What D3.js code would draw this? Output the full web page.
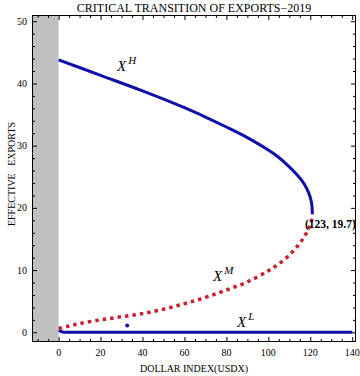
<!DOCTYPE html>
<html><head><meta charset="utf-8">
<script src="https://cdn.jsdelivr.net/npm/d3@7"></script>
<style>body{margin:0;background:#fff}svg{display:block}text{font-family:"Liberation Serif","Times New Roman",serif}</style>
</head><body><svg id="c" width="360" height="376"></svg>
<script>
const xH = [0, 20, 40, 60, 70, 80, 90, 100, 105, 110, 114, 117, 119, 120.3, 120.8, 121];
const yH = [43.8, 41.3, 38.8, 36.1, 34.6, 33.0, 31.3, 29.3, 28.1, 26.6, 25.2, 23.9, 22.6, 21.3, 20.3, 19.0];
const xM = [0, 5, 10, 20, 30, 40, 50, 60, 70, 80, 90, 100, 105, 110, 114, 117, 119, 120.5, 121];
const yM = [0.6, 1.0, 1.4, 2.0, 2.5, 3.0, 3.7, 4.6, 5.6, 6.8, 8.1, 9.9, 11.0, 12.4, 13.9, 15.3, 16.5, 17.8, 19.0];
const xL = [0, 1, 2, 3, 140];
const yL = [0.3, 0.15, 0.05, 0, 0];
const dotPt = [32.7, 1.1];
const xTicks = [0, 20, 40, 60, 80, 100, 120, 140];
const yTicks = [0, 10, 20, 30, 40, 50];
const bifLabel = "(123, 19.7)";
const title = "CRITICAL TRANSITION OF EXPORTS\u22122019";
const xTitle = "DOLLAR INDEX(USDX)";
const yTitle = "EFFECTIVE\u00a0\u00a0\u00a0EXPORTS";

const W=360,H=376, m={l:32,r:4,t:15,b:34};
const svg=d3.select("#c");
const x=d3.scaleLinear().domain([-12.7,141.8]).range([m.l,W-m.r]);
const y=d3.scaleLinear().domain([-1.56,51.0]).range([H-m.b,m.t]);

// gray band
svg.append("rect").attr("x",x(-12.7)).attr("y",m.t).attr("width",x(0)-x(-12.7)).attr("height",H-m.b-m.t).attr("fill","#c0c0c0");

const xMinor=d3.range(-10,141,5).filter(v=>v%20!==0);
const yMinor=d3.range(0,51,2).filter(v=>v%10!==0);
const g=svg.append("g");
function ticks(axisGen, scale, major, minor, tr){
  const a=g.append("g").attr("transform",tr);
  a.call(axisGen(scale).tickValues(minor).tickSize(-3).tickFormat(""));
  a.append("g").call(axisGen(scale).tickValues(major).tickSize(-5).tickFormat(""));
  return a;
}
ticks(d3.axisBottom,x,xTicks,xMinor,`translate(0,${H-m.b})`);
ticks(d3.axisTop,x,xTicks,xMinor,`translate(0,${m.t})`);
ticks(d3.axisLeft,y,yTicks,yMinor,`translate(${m.l},0)`);
ticks(d3.axisRight,y,yTicks,yMinor,`translate(${W-m.r},0)`);
g.selectAll(".domain").remove();
g.selectAll("line").attr("stroke","#000").attr("stroke-width",1);
svg.append("rect").attr("x",m.l+0.5).attr("y",m.t+0.5).attr("width",W-m.r-m.l-1).attr("height",H-m.b-m.t-1).attr("fill","none").attr("stroke","#000");

// tick labels
svg.append("g").selectAll("text").data(xTicks).join("text")
  .attr("x",d=>x(d)).attr("y",H-m.b+14).attr("text-anchor","middle").attr("font-size",10).text(d=>d);
svg.append("g").selectAll("text").data(yTicks).join("text")
  .attr("x",m.l-5).attr("y",d=>y(d)+3.5).attr("text-anchor","end").attr("font-size",10).text(d=>d);

const line=d3.line().x(d=>x(d[0])).y(d=>y(d[1])).curve(d3.curveCatmullRom.alpha(0.5));
const lineL=d3.line().x(d=>x(d[0])).y(d=>y(d[1])).curve(d3.curveMonotoneX);
const blue="#1010a8", red="#c81e32";
svg.append("path").attr("d",lineL(d3.zip(xL,yL))).attr("fill","none").attr("stroke",blue).attr("stroke-width",3);
svg.append("path").attr("d",line(d3.zip(xM,yM))).attr("fill","none").attr("stroke",red).attr("stroke-width",3.5).attr("stroke-dasharray","3.5,4");
svg.append("path").attr("d",line(d3.zip(xH,yH))).attr("fill","none").attr("stroke",blue).attr("stroke-width",3);
svg.append("circle").attr("cx",x(dotPt[0])).attr("cy",y(dotPt[1])).attr("r",2).attr("fill",blue);

// labels
function xlab(px,py,sup){
  const t=svg.append("text").attr("x",px).attr("y",py).attr("font-size",15).attr("font-style","italic");
  t.append("tspan").text("X");
  t.append("tspan").attr("dx",2).attr("dy",-7).attr("font-size",11).text(sup);
}
xlab(117,71,"H");
xlab(213,281,"M");
xlab(237,327,"L");
svg.append("text").attr("x",305).attr("y",228).attr("font-size",11.5).attr("font-weight","bold").text(bifLabel);

svg.append("text").attr("x",194).attr("y",12).attr("text-anchor","middle").attr("font-size",12).text(title);
svg.append("text").attr("x",194).attr("y",372).attr("text-anchor","middle").attr("font-size",10).text(xTitle);
svg.append("text").attr("transform","translate(15,174) rotate(-90)").attr("text-anchor","middle").attr("font-size",10).text(yTitle);
</script></body></html>
